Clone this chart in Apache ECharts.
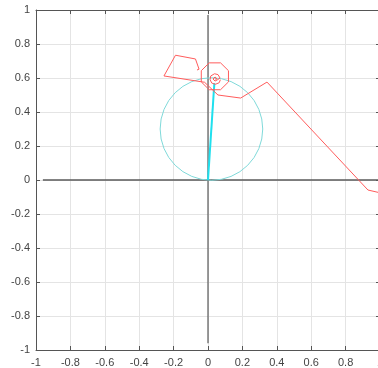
<!DOCTYPE html>
<html><head><meta charset="utf-8">
<script src="https://cdn.jsdelivr.net/npm/echarts@6/dist/echarts.min.js"></script>
<style>html,body{margin:0;padding:0;background:#fff}#c{width:378px;height:368px}</style>
</head><body><div id="c"></div>
<script>
// Tick labels
const xTicks = [-1,-0.8,-0.6,-0.4,-0.2,0,0.2,0.4,0.6,0.8,1];
const yTicks = [-1,-0.8,-0.6,-0.4,-0.2,0,0.2,0.4,0.6,0.8,1];
// Red trace: outer path
const tracePath = [[-0.064,0.647],[-0.052,0.652],[-0.073,0.712],[-0.189,0.734],[-0.256,0.612],[-0.02,0.575],[0.058,0.500],[0.190,0.482],[0.343,0.576],[0.930,-0.059],[1.02,-0.08]];
// Red trace: octagon loop
const traceLoop = [[-0.039,0.577],[-0.039,0.643],[0.007,0.689],[0.073,0.689],[0.119,0.643],[0.119,0.577],[0.073,0.531],[0.007,0.531],[-0.039,0.577]];
// Red trace: inner spiral
const traceSpiral = [[0.041,0.594],[0.053,0.594],[0.041,0.606],[0.029,0.594],[0.041,0.582],[0.056,0.590],[0.070,0.600],[0.058,0.620],[0.038,0.625],[0.016,0.612],[0.012,0.590],[0.022,0.570],[0.043,0.563],[0.065,0.572],[0.072,0.590]];
// Cyan arm
const arm = [[0,0],[0.037,0.57]];
// Cyan circle: [cx, cy, r]
const circle = [[0.02,0.30,0.30]];
// Origin axes lines
const hAxisLine = [[-0.96,0],[1.0,0]];
const vAxisLine = [[0,-0.96],[0,0.97]];

const chart = echarts.init(document.getElementById('c'));
const fmt = v => String(Math.round(v*10)/10);
const labelStyle = {color:'#444', fontSize:11, fontFamily:'Liberation Sans, Arial, sans-serif'};
const baseAxis = {type:'value', min:-1, max:1, interval:0.2};
function lineSeries(data, color, width, z){
  return {type:'line', data, symbol:'none', silent:true, z:z||3,
    lineStyle:{color, width}, animation:false};
}
chart.setOption({
  animation:false,
  grid:{left:36, top:10, width:344, height:340, show:false, containLabel:false, outerBoundsMode:'none'},
  xAxis:[
    Object.assign({}, baseAxis, {position:'bottom',
      axisLine:{show:true, onZero:false, lineStyle:{color:'#555'}},
      axisTick:{show:true, inside:true, length:4, lineStyle:{color:'#555'}},
      axisLabel:Object.assign({formatter:fmt, margin:7}, labelStyle),
      splitLine:{show:true, lineStyle:{color:'#e4e4e4'}}}),
    Object.assign({}, baseAxis, {position:'top',
      axisLine:{show:true, onZero:false, lineStyle:{color:'#555'}},
      axisTick:{show:true, inside:true, length:4, lineStyle:{color:'#555'}},
      axisLabel:{show:false}, splitLine:{show:false}})
  ],
  yAxis:[
    Object.assign({}, baseAxis, {position:'left',
      axisLine:{show:true, onZero:false, lineStyle:{color:'#555'}},
      axisTick:{show:true, inside:true, length:4, lineStyle:{color:'#555'}},
      axisLabel:Object.assign({formatter:fmt, margin:6}, labelStyle),
      splitLine:{show:true, lineStyle:{color:'#e4e4e4'}}}),
    Object.assign({}, baseAxis, {position:'right',
      axisLine:{show:true, onZero:false, lineStyle:{color:'#555'}},
      axisTick:{show:true, inside:true, length:4, lineStyle:{color:'#555'}},
      axisLabel:{show:false}, splitLine:{show:false}})
  ],
  series:[
    lineSeries(hAxisLine, '#5a5a5a', 1.5, 2),
    lineSeries(vAxisLine, '#5a5a5a', 1.2, 2),
    {type:'custom', data:circle, silent:true, z:3,
      renderItem:function(params, api){
        const c = api.coord([api.value(0), api.value(1)]);
        const s = api.size([api.value(2), api.value(2)]);
        return {type:'circle', shape:{cx:c[0], cy:c[1], r:(s[0]+s[1])/2},
          style:{fill:null, stroke:'#7fd9d9', lineWidth:1}};
      }},
    lineSeries(arm, '#1fe0ee', 2, 4),
    lineSeries(tracePath, '#ff5c5c', 1, 5),
    lineSeries(traceLoop, '#ff5c5c', 1, 5),
    lineSeries(traceSpiral, '#ff5c5c', 1, 5)
  ]
});
</script></body></html>
